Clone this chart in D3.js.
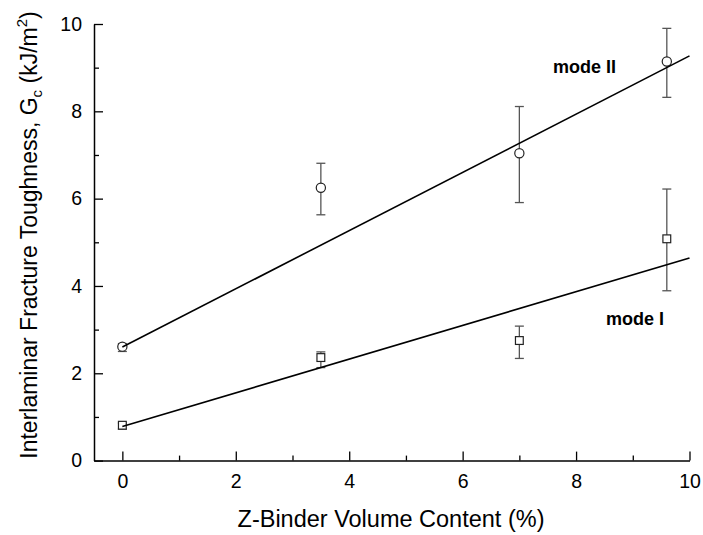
<!DOCTYPE html>
<html>
<head>
<meta charset="utf-8">
<script src="https://cdn.jsdelivr.net/npm/d3@7"></script>
<style>
  html, body { margin: 0; padding: 0; background: #fff; }
  svg text { font-family: "Liberation Sans", Arial, sans-serif; fill: #000; }
</style>
</head>
<body>
<svg id="chart" width="703" height="535"></svg>
<script>
// ---- Data ----
const zBinder = [0, 3.5, 7, 9.6];               // Z-Binder volume content (%)
const modeII = [2.61, 6.25, 7.04, 9.14];        // mode II Gc
const modeIILow = [2.50, 5.63, 5.91, 8.32];
const modeIIHigh = [2.68, 6.81, 8.11, 9.90];
const modeI = [0.81, 2.36, 2.75, 5.08];         // mode I Gc
const modeILow = [0.72, 2.13, 2.34, 3.89];
const modeIHigh = [0.86, 2.49, 3.08, 6.22];
const fitX = [0, 10];
const modeIIFit = [2.6, 9.27];
const modeIFit = [0.78, 4.64];
const xMajorTicks = [0, 2, 4, 6, 8, 10];
const xMinorTicks = [1, 3, 5, 7, 9];
const yMajorTicks = [0, 2, 4, 6, 8, 10];
const yMinorTicks = [1, 3, 5, 7, 9];

const svg = d3.select("#chart");
const x = d3.scaleLinear().domain([-0.5, 10]).range([94, 689.5]);
const y = d3.scaleLinear().domain([0, 10]).range([460.6, 24]);

// Axes
const gx = svg.append("g").attr("transform", `translate(0,${y(0)})`)
  .call(d3.axisBottom(x).tickValues(xMajorTicks).tickSizeInner(-9).tickSizeOuter(0).tickPadding(14).tickFormat(d3.format("d")));
const gxm = svg.append("g").attr("transform", `translate(0,${y(0)})`)
  .call(d3.axisBottom(x).tickValues(xMinorTicks).tickSizeInner(-5).tickSizeOuter(0).tickFormat(""));
const gy = svg.append("g").attr("transform", `translate(${x(-0.5)},0)`)
  .call(d3.axisLeft(y).tickValues(yMajorTicks).tickSizeInner(-9).tickSizeOuter(0).tickPadding(12).tickFormat(d3.format("d")));
const gym = svg.append("g").attr("transform", `translate(${x(-0.5)},0)`)
  .call(d3.axisLeft(y).tickValues(yMinorTicks).tickSizeInner(-5).tickSizeOuter(0).tickFormat(""));
[gx, gxm, gy, gym].forEach(g => {
  g.selectAll("path.domain").attr("stroke", "#000").attr("stroke-width", 1.5);
  g.selectAll(".tick line").attr("stroke", "#000").attr("stroke-width", 1.3);
  g.selectAll("text").attr("font-size", 19.5).attr("font-family", "Liberation Sans, Arial, sans-serif").attr("fill", "#000");
});
gxm.select("path.domain").remove();
gym.select("path.domain").remove();

// Axis titles
svg.append("text")
  .attr("x", 391).attr("y", 527)
  .attr("text-anchor", "middle").attr("font-size", 23.5)
  .text("Z-Binder Volume Content (%)");

const yt = svg.append("text")
  .attr("transform", "translate(37,235) rotate(-90)")
  .attr("text-anchor", "middle").attr("font-size", 23);
yt.append("tspan").text("Interlaminar Fracture Toughness, G");
yt.append("tspan").attr("font-size", 15).attr("dy", 5).text("c");
yt.append("tspan").attr("dy", -5).text(" (kJ/m");
yt.append("tspan").attr("font-size", 15).attr("dy", -10).text("2");
yt.append("tspan").attr("dy", 10).text(")");

// Fit lines
const line = d3.line().x(d => x(d[0])).y(d => y(d[1]));

function drawSeries(vals, lo, hi, shape) {
  const g = svg.append("g");
  const cap = 4.5;
  zBinder.forEach((xv, i) => {
    g.append("line").attr("x1", x(xv)).attr("x2", x(xv))
      .attr("y1", y(lo[i])).attr("y2", y(hi[i]))
      .attr("stroke", "#555").attr("stroke-width", 1.3);
    [lo[i], hi[i]].forEach(v => {
      g.append("line").attr("x1", x(xv) - cap).attr("x2", x(xv) + cap)
        .attr("y1", y(v)).attr("y2", y(v))
        .attr("stroke", "#555").attr("stroke-width", 1.3);
    });
  });
  zBinder.forEach((xv, i) => {
    if (shape === "circle") {
      g.append("circle").attr("cx", x(xv)).attr("cy", y(vals[i])).attr("r", 4.6)
        .attr("fill", "#fff").attr("stroke", "#222").attr("stroke-width", 1.2);
    } else {
      g.append("rect").attr("x", x(xv) - 3.9).attr("y", y(vals[i]) - 3.9)
        .attr("width", 7.8).attr("height", 7.8)
        .attr("fill", "#fff").attr("stroke", "#222").attr("stroke-width", 1.2);
    }
  });
}
drawSeries(modeII, modeIILow, modeIIHigh, "circle");
drawSeries(modeI, modeILow, modeIHigh, "square");

svg.append("path").datum(fitX.map((v, i) => [v, modeIIFit[i]])).attr("d", line)
  .attr("fill", "none").attr("stroke", "#000").attr("stroke-width", 1.6);
svg.append("path").datum(fitX.map((v, i) => [v, modeIFit[i]])).attr("d", line)
  .attr("fill", "none").attr("stroke", "#000").attr("stroke-width", 1.6);

// Series labels
svg.append("text").attr("x", 553).attr("y", 73).attr("font-size", 18).attr("font-weight", "bold").text("mode II");
svg.append("text").attr("x", 606).attr("y", 325).attr("font-size", 18).attr("font-weight", "bold").text("mode I");
</script>
</body>
</html>
